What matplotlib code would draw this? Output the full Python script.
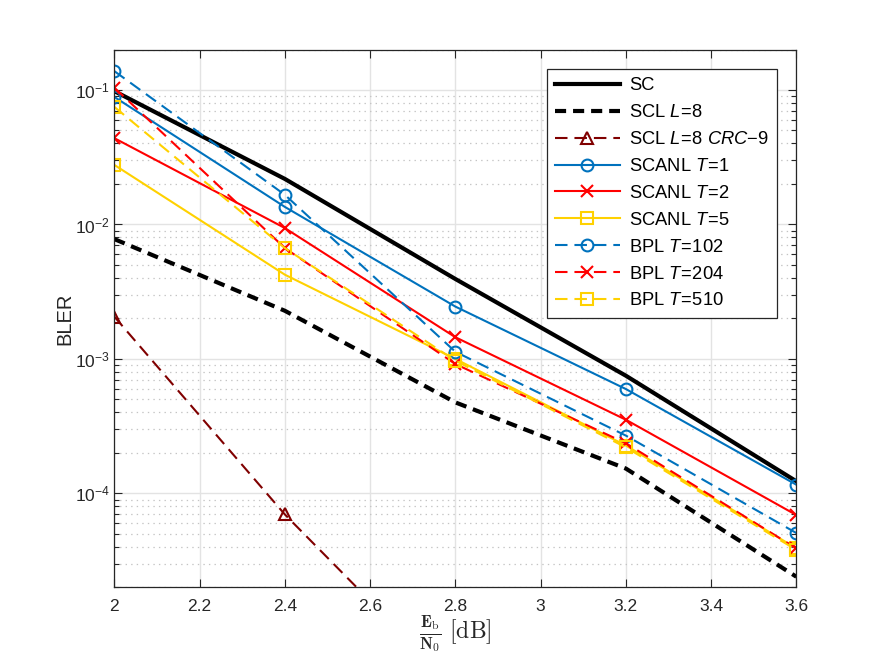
import numpy as np
import matplotlib
matplotlib.use("Agg")
import matplotlib.pyplot as plt
from matplotlib.ticker import LogLocator, NullFormatter

plt.rcParams['font.family'] = ['Liberation Sans', 'DejaVu Sans']
plt.rcParams['mathtext.fontset'] = 'custom'
plt.rcParams['mathtext.rm'] = 'Liberation Sans'
plt.rcParams['mathtext.it'] = 'Liberation Sans:italic'
plt.rcParams['mathtext.bf'] = 'Liberation Sans:bold'
plt.rcParams['lines.scale_dashes'] = False

# Eb/N0 in dB
ebn0 = [2.0, 2.4, 2.8, 3.2, 3.6]

sc = [0.098, 0.0218, 0.00393, 7.5e-4, 1.23e-4]
scl8 = [0.00778, 0.00228, 4.75e-4, 1.53e-4, 2.4e-5]
ebn0_crc = [2.0, 2.4, 2.8]
scl8_crc = [0.00206, 6.97e-5, 3.6e-6]
scanl_t1 = [0.0887, 0.0135, 0.00245, 5.97e-4, 1.16e-4]
scanl_t2 = [0.0438, 0.0094, 0.00145, 3.53e-4, 6.9e-5]
scanl_t5 = [0.0277, 0.00423, 1.0e-3, 2.27e-4, 3.9e-5]
bpl_t102 = [0.138, 0.0166, 1.13e-3, 2.69e-4, 5.07e-5]
bpl_t204 = [0.104, 0.00667, 9.16e-4, 2.36e-4, 3.9e-5]
bpl_t510 = [0.0748, 0.00667, 9.7e-4, 2.2e-4, 3.8e-5]

blue = '#0072BD'
red = '#FF0000'
yellow = '#FFD100'
darkred = '#800000'

fig = plt.figure(figsize=(8.8, 6.6), dpi=100)
ax = fig.add_axes([0.13, 0.11, 0.775, 0.815])

mk = dict(markersize=8.5, markerfacecolor='none', markeredgewidth=1.5)
lw = 1.5
dash = (9, 5)

ax.semilogy(ebn0, sc, color='k', lw=3, label='SC')
ax.semilogy(ebn0, scl8, color='k', lw=3, dashes=(8, 5), label=r'SCL $L\!=\!8$')
ax.semilogy(ebn0_crc, scl8_crc, color=darkred, lw=lw, dashes=dash, marker='^',
            label=r'SCL $L\!=\!8\ CRC{-}9$', **mk)
ax.semilogy(ebn0, scanl_t1, color=blue, lw=lw, marker='o', label=r'SCANL $T\!=\!1$', **mk)
ax.semilogy(ebn0, scanl_t2, color=red, lw=lw, marker='x', label=r'SCANL $T\!=\!2$', **mk)
ax.semilogy(ebn0, scanl_t5, color=yellow, lw=lw, marker='s', label=r'SCANL $T\!=\!5$', **mk)
ax.semilogy(ebn0, bpl_t102, color=blue, lw=lw, dashes=dash, marker='o', label=r'BPL $T\!=\!102$', **mk)
ax.semilogy(ebn0, bpl_t204, color=red, lw=lw, dashes=dash, marker='x', label=r'BPL $T\!=\!204$', **mk)
ax.semilogy(ebn0, bpl_t510, color=yellow, lw=lw, dashes=dash, marker='s', label=r'BPL $T\!=\!510$', **mk)

ax.set_xlim(2, 3.6)
ax.set_ylim(2e-5, 0.2)
ax.set_xticks([2, 2.2, 2.4, 2.6, 2.8, 3, 3.2, 3.4, 3.6])
ax.set_xticklabels(['2', '2.2', '2.4', '2.6', '2.8', '3', '3.2', '3.4', '3.6'])
ax.yaxis.set_major_locator(LogLocator(base=10, numticks=10))
ax.yaxis.set_minor_locator(LogLocator(base=10, subs=np.arange(2, 10), numticks=20))
ax.yaxis.set_minor_formatter(NullFormatter())

ax.grid(True, which='major', color='#e3e3e3', lw=1.0, ls='-')
ax.grid(True, which='minor', axis='y', color='#c4c4c4', lw=0.9, ls=(0, (1, 3)))
ax.set_axisbelow(True)
ax.tick_params(which='both', direction='in', top=True, right=True, colors='#262626',
               labelsize=12.5)
ax.tick_params(axis='x', which='major', pad=8)
ax.tick_params(which='major', length=6, width=0.8)
ax.tick_params(which='minor', length=3.5, width=0.8)
for s in ax.spines.values():
    s.set_color('#262626')
    s.set_linewidth(0.9)

ax.set_ylabel('BLER', fontsize=14.5, color='#262626', labelpad=0)
ax.set_xlabel(r'$\frac{\mathbf{E}_\mathrm{b}}{\mathbf{N}_0}\ \mathrm{[dB]}$', fontsize=17,
              math_fontfamily='cm', color='#262626', labelpad=0)

leg = ax.legend(loc='upper right', bbox_to_anchor=(0.9716, 0.9638), borderaxespad=0,
                fontsize=13.2, handlelength=3.5, handletextpad=0.5, labelspacing=0.54,
                fancybox=False, edgecolor='#262626', framealpha=1, borderpad=0.45)
leg.get_frame().set_linewidth(0.9)

fig.savefig('out.png', dpi=100)
